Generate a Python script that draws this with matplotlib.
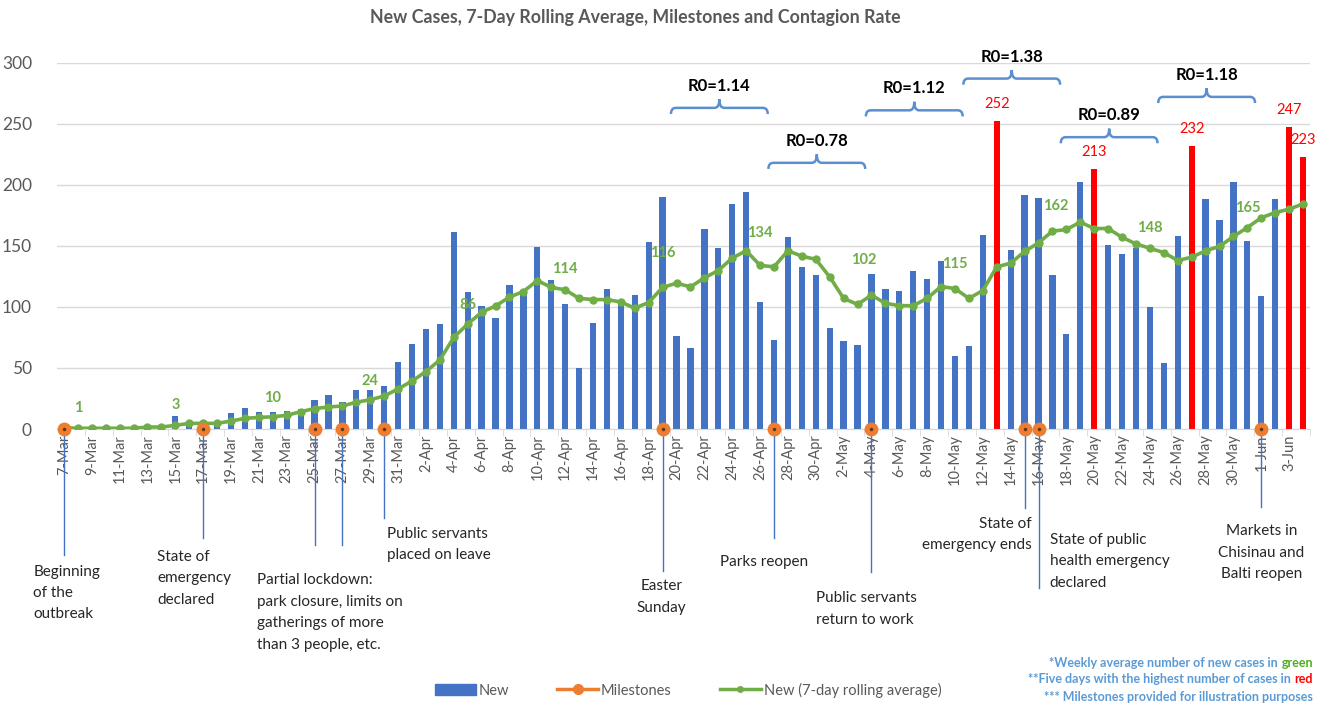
import matplotlib
matplotlib.use("Agg")
import matplotlib.pyplot as plt
import numpy as np
import pandas as pd
from matplotlib.path import Path
from matplotlib.patches import PathPatch, Patch
from matplotlib.lines import Line2D

plt.rcParams['font.family'] = ['Lato', 'DejaVu Sans']

# ---------------- data ----------------
dates = pd.date_range('2020-03-07', '2020-06-04', freq='D')
date_labels = [f"{d.day}-{d.strftime('%b')}" for d in dates]

new_cases = [1, 0, 0, 0, 0, 1, 1, 1, 11, 5, 1, 5, 13, 17, 14, 14, 15, 16, 24, 28,
             22, 32, 32, 35, 55, 70, 82, 86, 161, 112, 101, 91, 118, 114, 149, 122, 102, 50, 87, 115,
             105, 110, 153, 190, 76, 66, 164, 148, 184, 194, 104, 73, 157, 133, 126, 83, 72, 69, 127, 115,
             113, 129, 123, 138, 60, 68, 159, 252, 147, 192, 189, 126, 78, 202, 213, 151, 143, 148, 100, 54,
             158, 232, 188, 171, 202, 154, 109, 188, 247, 223]

rolling_avg = [1, 0.6, 0.6, 0.6, 0.6, 0.6, 1.6, 1.6, 3, 4.6, 4.6, 4.6, 6.5, 8.7, 9.5, 10, 11.2, 14.2, 16.7, 18,
               18.9, 21.9, 24, 27, 32.8, 39.3, 47, 56.6, 75, 86, 95.6, 100.8, 108, 112.6, 121.6, 116, 114, 107, 106, 106,
               104, 99, 103.6, 116, 119.4, 116.4, 123.8, 129.8, 140, 146, 134, 132.8, 146, 141.5, 139, 124.6, 107, 102, 109.6, 103,
               101, 101, 107, 116.7, 115, 107, 113.4, 132.8, 135.8, 145.4, 152.5, 162, 163.4, 169.4, 164.2, 164.2, 157, 151.6, 148, 144.5,
               138, 140.7, 146, 149.5, 157.7, 165, 173, 177.3, 180, 184.4]

# weekly labelled days of the rolling average
avg_label_days = ['2020-03-08', '2020-03-15', '2020-03-22', '2020-03-29', '2020-04-05', '2020-04-12',
                  '2020-04-19', '2020-04-26', '2020-05-03', '2020-05-10', '2020-05-17', '2020-05-24', '2020-05-31']

# milestones
milestone_days = ['2020-03-07', '2020-03-17', '2020-03-25', '2020-03-27', '2020-03-30', '2020-04-19',
                  '2020-04-27', '2020-05-04', '2020-05-15', '2020-05-16', '2020-06-01']
milestone_texts = ["Beginning\nof the\noutbreak",
                   "State of\nemergency\ndeclared",
                   "Partial lockdown:\npark closure, limits on\ngatherings of more\nthan 3 people, etc.",
                   None,
                   "Public servants\nplaced on leave",
                   "Easter\nSunday",
                   "Parks reopen",
                   "Public servants\nreturn to work",
                   "State of\nemergency ends",
                   "State of public\nhealth emergency\ndeclared",
                   "Markets in\nChisinau and\nBalti reopen"]

# contagion rate periods
r0_start = ['2020-04-20', '2020-04-27', '2020-05-04', '2020-05-11', '2020-05-18', '2020-05-25']
r0_values = [1.14, 0.78, 1.12, 1.38, 0.89, 1.18]

# ---------------- layout (not data) ----------------
ms_line_end = [-103, -89, -95, -95, -73, -116, -89, -117, -65, -130, -64]
ms_text_pos = [(-2.2, -111, 'left'), (6.7, -99, 'left'), (13.9, -118, 'left'), None,
               (23.2, -80, 'left'), (42.9, -123, 'center'), (47.1, -103, 'left'),
               (54.0, -133, 'left'), (69.5, -72, 'right'), (70.8, -85, 'left'),
               (86.0, -78, 'center')]
avg_label_off = [(0, 20), (0, 20), (0, 19), (0, 19), (0, 19), (0, 21), (0, 34), (0, 32),
                 (6, 44), (0, 25), (3, 25), (0, 20), (0, 20)]
r0_bracket_y = [263, 218, 261, 287, 239, 272]

# ---------------- figure ----------------
W, H = 1329, 704
fig = plt.figure(figsize=(W / 100, H / 100), dpi=100)
ax = fig.add_axes([57 / W, 1 - 429 / H, (1310 - 57) / W, (429 - 62.7) / H])

x = np.arange(len(dates))
idx = {d.strftime('%Y-%m-%d'): i for i, d in enumerate(dates)}
vals = np.array(new_cases)
top5 = set(np.argsort(vals)[-5:])
bar_colors = ['#ff0000' if i in top5 else '#4472c4' for i in range(len(vals))]

ax.bar(x, vals, width=0.45, color=bar_colors, zorder=2)
ax.plot(x, rolling_avg, color='#70ad47', lw=2.6, marker='o', ms=5, zorder=4)

# red labels
for i in sorted(top5):
    ax.annotate(f"{vals[i]}", (x[i], vals[i]), xytext=(0, 17), textcoords='offset pixels',
                ha='center', va='center', color='#ff0000', fontsize=10.5)

# green labels
for d, off in zip(avg_label_days, avg_label_off):
    i = idx[d]
    ax.annotate(f"{round(rolling_avg[i])}", (x[i], rolling_avg[i]), xytext=off,
                textcoords='offset pixels', ha='center', va='center',
                color='#70ad47', fontsize=10.5, fontweight='bold', zorder=6)

# milestones
ms_x = [idx[d] for d in milestone_days]
for mx, yend in zip(ms_x, ms_line_end):
    ax.plot([mx, mx], [0, yend], color='#4472c4', lw=1, clip_on=False, zorder=1)
ax.plot(ms_x, np.zeros(len(ms_x)), 'o', ms=9, color='#ed7d31', clip_on=False, zorder=7)
ax.plot(ms_x, np.zeros(len(ms_x)), 'o', ms=1.5, color='#6b3410', clip_on=False, zorder=8)
for t, pos in zip(milestone_texts, ms_text_pos):
    if t is None:
        continue
    px, py, ha = pos
    ax.text(px, py, t, ha=ha, va='top', fontsize=11, color='#262626',
            linespacing=1.68, clip_on=False)

# R0 brackets
for s, r, yb in zip(r0_start, r0_values, r0_bracket_y):
    i = idx[s]
    x0, x1 = i - 0.4, i + 6.55
    xm = (x0 + x1) / 2
    cx, dy, rise = 0.35, 5, 7
    verts = [(x0, yb - dy), (x0, yb), (x0 + cx, yb),
             (xm - cx, yb), (xm, yb), (xm, yb + rise),
             (xm, yb), (xm + cx, yb),
             (x1 - cx, yb), (x1, yb), (x1, yb - dy)]
    codes = [Path.MOVETO, Path.CURVE3, Path.CURVE3,
             Path.LINETO, Path.CURVE3, Path.CURVE3,
             Path.CURVE3, Path.CURVE3,
             Path.LINETO, Path.CURVE3, Path.CURVE3]
    ax.add_patch(PathPatch(Path(verts, codes), fill=False, edgecolor='#5b8fd0', lw=1.8,
                           clip_on=False, zorder=5))
    ax.annotate(f"R0={r:.2f}", (xm, yb), xytext=(0, 22), textcoords='offset pixels',
                ha='center', va='center', fontsize=12, fontweight='bold', color='#000000')

# axes styling
ax.set_xlim(-0.5, len(dates) - 0.5)
ax.set_ylim(0, 300)
ax.set_yticks(np.arange(0, 301, 50))
ax.set_xticks(x[::2])
ax.set_xticklabels(date_labels[::2], rotation=90, fontsize=10.5, color='#595959')
ax.set_xticks(np.arange(1.5, len(dates), 2), minor=True)
ax.tick_params(axis='x', which='major', length=0, pad=4)
ax.tick_params(axis='x', which='minor', length=5, color='#d9d9d9')
ax.tick_params(axis='y', length=0, labelsize=12.5, labelcolor='#595959', pad=18)
ax.grid(axis='y', color='#d9d9d9', lw=1)
ax.set_axisbelow(True)
for sp in ['top', 'right', 'left']:
    ax.spines[sp].set_visible(False)
ax.spines['bottom'].set_color('#d9d9d9')

fig.text(635 / W, 1 - 18 / H, "New Cases, 7-Day Rolling Average, Milestones and Contagion Rate",
         ha='center', va='center', fontsize=12.8, fontweight='bold', color='#595959')

# legend
handles = [Patch(color='#4472c4'),
           Line2D([], [], color='#ed7d31', lw=2.5, marker='o', ms=7),
           Line2D([], [], color='#70ad47', lw=2.5, marker='o', ms=4)]
leg = fig.legend(handles, ['New', 'Milestones', 'New (7-day rolling average)'], loc='center',
                 bbox_to_anchor=(688 / W, 1 - 690 / H), ncol=3, frameon=False, fontsize=10.5,
                 columnspacing=3.3, handlelength=2.8, handletextpad=0.2)
for t in leg.get_texts():
    t.set_color('#595959')

# footnotes (two-colour lines: measure the coloured word, then place the rest left of it)
fn_color = '#5b9bd5'
fx = 1313 / W
fs = 9
t1 = fig.text(fx, 1 - 663 / H, "green", ha='right', va='center', fontsize=fs, fontweight='bold', color='#4fae1f')
t2 = fig.text(fx, 1 - 679 / H, "red", ha='right', va='center', fontsize=fs, fontweight='bold', color='#ff0000')
fig.canvas.draw()
r = fig.canvas.get_renderer()
for tw, rest in [(t1, "*Weekly average number of new cases in"),
                 (t2, "**Five days with the highest number of cases in")]:
    bb = tw.get_window_extent(renderer=r)
    fig.text((bb.x0 - 4) / W, tw.get_position()[1], rest, ha='right', va='center',
             fontsize=fs, fontweight='bold', color=fn_color)
fig.text(fx, 1 - 697 / H, "*** Milestones provided for illustration purposes", ha='right', va='center',
         fontsize=fs, fontweight='bold', color=fn_color)

fig.savefig('out.png', dpi=100)
